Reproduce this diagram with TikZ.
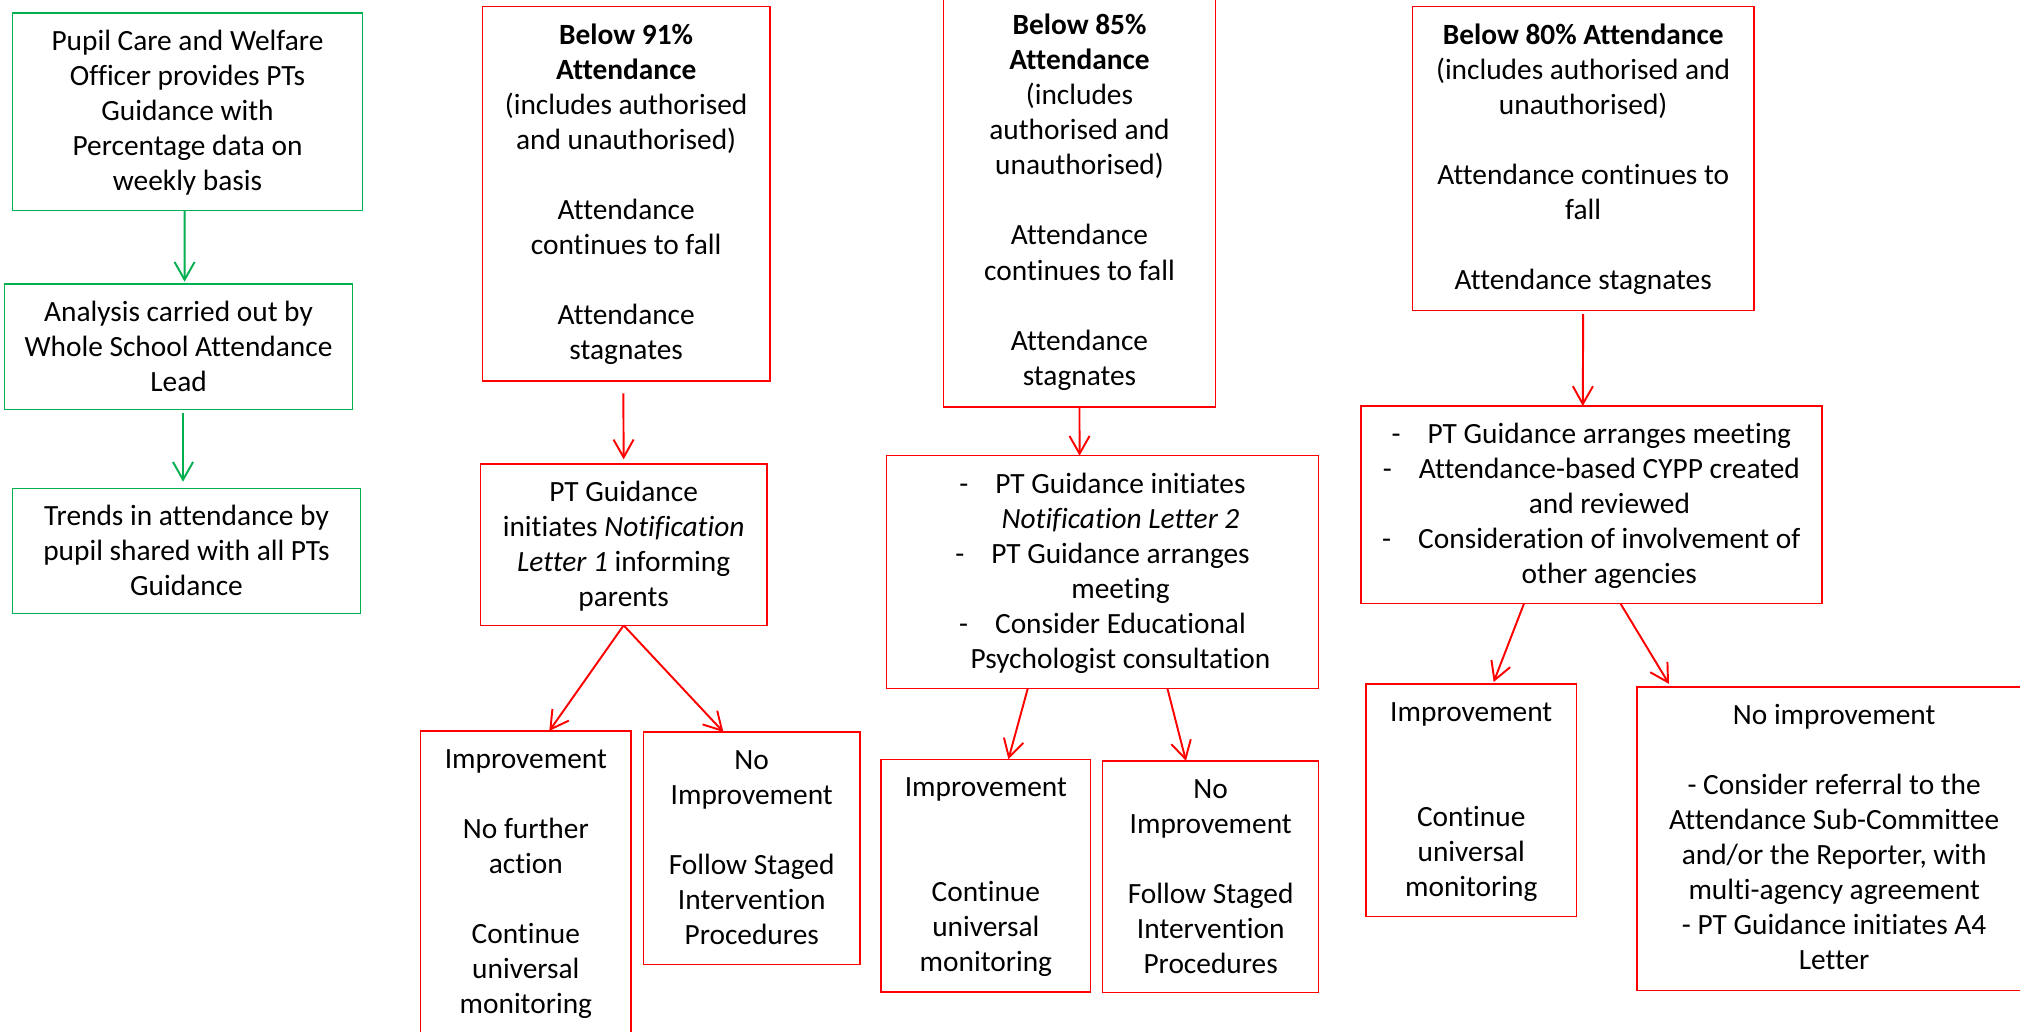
\documentclass[tikz,border=0pt]{standalone}
\usepackage{fontspec}
\setmainfont{Carlito}[Ligatures=NoCommon]
\usetikzlibrary{arrows.meta}
\definecolor{boxgreen}{RGB}{0,176,80}
\definecolor{boxred}{RGB}{255,0,0}
\newcommand\bx[3]{\parbox[c][#2][t]{#1}{\centering\rule{0pt}{14.5pt}#3\par}}
\newcommand\dashitem{\makebox[14pt][l]{-}}
\newcommand\contline{\hspace*{14pt}}
\newlength\bl \setlength\bl{13.6pt}
\begin{document}
\begin{tikzpicture}[x=0.5pt,y=-0.5pt,
  font=\fontsize{11.4}{13.6}\selectfont,
  box/.style={draw, line width=0.6pt, inner sep=0pt, outer sep=0pt, anchor=north west},
  gbox/.style={box, draw=boxgreen},
  rbox/.style={box, draw=boxred},
  garrow/.style={draw=boxgreen, line width=0.75pt, -{Straight Barb[length=6.9pt,width=7.8pt]}},
  rarrow/.style={draw=boxred, line width=0.75pt, -{Straight Barb[length=6.9pt,width=7.8pt]}}]
\useasboundingbox (0,0) rectangle (1568.3,800.5);
\fill[white] (0,0) rectangle (1568.3,800.5);
\clip (0,0) rectangle (1568.3,800.5);

% green column
\node[gbox] (G1) at (9.6,10.3) {\bx{135.95pt}{76.65pt}{Pupil Care and Welfare\\Officer provides PTs\\Guidance with\\Percentage data on\\weekly basis}};
\node[gbox] (G2) at (3.4,220.5) {\bx{135.2pt}{48.8pt}{Analysis carried out by\\Whole School Attendance\\Lead}};
\node[gbox] (G3) at (9.6,379.1) {\bx{135.2pt}{48.65pt}{Trends in attendance by\\pupil shared with all PTs\\Guidance}};

% 91% column
\node[rbox] (R1) at (374.5,5.2) {\bx{111.65pt}{145.3pt}{\textbf{Below 91\%}\\\textbf{Attendance}\\(includes authorised\\and unauthorised)\\[\bl]Attendance\\continues to fall\\[\bl]Attendance\\stagnates}};
\node[rbox] (R2) at (372.9,360.2) {\bx{111.3pt}{62.65pt}{PT Guidance\\initiates \textit{Notification}\\\textit{Letter 1} informing\\parents}};
\node[rbox] (R3) at (326.6,567.5) {\bx{81.65pt}{131.25pt}{Improvement\\[\bl]No further\\action\\[\bl]Continue\\universal\\monitoring}};
\node[rbox] (R4) at (499.7,568.3) {\bx{83.9pt}{90.2pt}{No\\Improvement\\[\bl]Follow Staged\\Intervention\\Procedures}};

% 85% column
\node[rbox] (R5) at (732.4,-2) {\bx{105.7pt}{159.1pt}{\textbf{Below 85\%}\\\textbf{Attendance}\\(includes\\authorised and\\unauthorised)\\[\bl]Attendance\\continues to fall\\[\bl]Attendance\\stagnates}};
\node[rbox] (R6) at (688.4,353.8) {\bx{167.55pt}{90.35pt}{\dashitem PT Guidance initiates\\\contline\textit{Notification Letter 2}\\\dashitem PT Guidance arranges\\\contline meeting\\\dashitem Consider Educational\\\contline Psychologist consultation}};
\node[rbox] (R7) at (684,589.5) {\bx{81.4pt}{90.25pt}{Improvement\\[2\bl]Continue\\universal\\monitoring}};
\node[rbox] (R8) at (856.1,590.7) {\bx{83.85pt}{89.9pt}{No\\Improvement\\[\bl]Follow Staged\\Intervention\\Procedures}};

% 80% column
\node[rbox] (R9) at (1096.5,5.2) {\bx{132.65pt}{118pt}{\textbf{Below 80\% Attendance}\\(includes authorised and\\unauthorised)\\[\bl]Attendance continues to\\fall\\[\bl]Attendance stagnates}};
\node[rbox] (R10) at (1056.5,315.2) {\bx{178.95pt}{76.65pt}{\dashitem PT Guidance arranges meeting\\\dashitem Attendance-based CYPP created\\\contline and reviewed\\\dashitem Consideration of involvement of\\\contline other agencies}};
\node[rbox] (R11) at (1060.6,531) {\bx{81.65pt}{90.25pt}{Improvement\\[2\bl]Continue\\universal\\monitoring}};
\node[rbox] (R12) at (1271,533.4) {\bx{153pt}{117.8pt}{No improvement\\[\bl]- Consider referral to the\\Attendance Sub-Committee\\and/or the Reporter, with\\multi-agency agreement\\- PT Guidance initiates A4\\Letter}};

% connectors
\draw[garrow] ([xshift=-1.1pt]G1.south) -- ([xshift=2.35pt,yshift=0.9pt]G2.north);
\draw[garrow] ([xshift=1.75pt,yshift=-1.4pt]G2.south) -- ([xshift=-1.35pt,yshift=2.55pt]G3.north);

\draw[rarrow] ([xshift=-1.1pt,yshift=-4.8pt]R1.south) -- ([yshift=1.8pt]R2.north);
\draw[rarrow] (R2.south) -- ([xshift=9.1pt]R3.north);
\draw[rarrow] (R2.south) -- ([xshift=-11pt]R4.north);

\draw[rarrow] (R5.south) -- ([xshift=-8.9pt]R6.north);
\draw[rarrow] ([xshift=-29pt]R6.south) -- ([xshift=8.75pt]R7.north);
\draw[rarrow] ([xshift=25.2pt]R6.south) -- ([xshift=-9.6pt]R8.north);

\draw[rarrow] ([yshift=-1.3pt]R9.south) -- ([xshift=-3.3pt]R10.north);
\draw[rarrow] ([xshift=-26.1pt]R10.south) -- ([xshift=8.7pt,yshift=0.75pt]R11.north);
\draw[rarrow] ([xshift=11.3pt]R10.south) -- ([xshift=-64.1pt,yshift=1.2pt]R12.north);
\end{tikzpicture}
\end{document}
